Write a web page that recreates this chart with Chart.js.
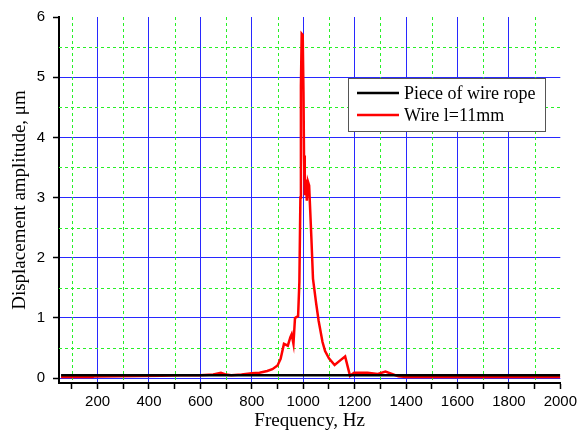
<!DOCTYPE html>
<html>
<head>
<meta charset="utf-8">
<script src="https://cdn.jsdelivr.net/npm/chart.js@4.4.1/dist/chart.umd.min.js"></script>
<style>
  html, body { margin: 0; padding: 0; background: #fff; }
  canvas { display: block; }
</style>
</head>
<body>
<canvas id="chart" width="581" height="433"></canvas>
<script>
// series names
const seriesNames = ['Piece of wire rope', 'Wire l=11mm'];

// piece of wire rope (flat)
const ropeFreq = [58, 400, 800, 1200, 1600, 2000];
const ropeAmp = [0.05, 0.05, 0.05, 0.05, 0.05, 0.05];

// wire l=11mm
const wireFreq = [58, 180, 190, 450, 520, 600, 650, 680, 700, 720, 760, 800, 830, 860, 880, 900,
  912, 925, 940, 950, 955, 962, 968, 980, 985, 989, 991, 994, 998, 1001, 1003, 1006,
  1010, 1014, 1018, 1023, 1027, 1032, 1038, 1050, 1060, 1075, 1085, 1100, 1122, 1145,
  1163, 1182, 1198, 1250, 1290, 1320, 1345, 1370, 1400, 2000];
const wireAmp = [0.02, 0.02, 0.03, 0.04, 0.05, 0.05, 0.06, 0.09, 0.06, 0.05, 0.06, 0.08, 0.09, 0.12, 0.15, 0.21,
  0.32, 0.57, 0.54, 0.68, 0.73, 0.57, 1.0, 1.03, 1.6, 3.0, 4.85, 5.72, 5.7, 4.75, 3.7, 3.04,
  3.3, 2.95, 3.27, 3.2, 2.8, 2.3, 1.65, 1.25, 0.95, 0.6, 0.45, 0.33, 0.22, 0.3,
  0.36, 0.04, 0.09, 0.09, 0.07, 0.11, 0.07, 0.03, 0.02, 0.02];

// tick labels
const xTicks = [200, 400, 600, 800, 1000, 1200, 1400, 1600, 1800, 2000];
const xMinor = [100, 300, 500, 700, 900, 1100, 1300, 1500, 1700, 1900];
const yTicks = [0, 1, 2, 3, 4, 5, 6];
const yMinor = [0.5, 1.5, 2.5, 3.5, 4.5, 5.5];

const BLUE = 'rgb(40,40,255)';
const GREEN = 'rgb(40,240,40)';
const NONE = 'rgba(0,0,0,0)';

const toPoints = (xs, ys) => xs.map((v, i) => ({ x: v, y: ys[i] }));

// dotted green minor grid
const minorGrid = {
  id: 'minorGrid',
  beforeDatasetsDraw(chart) {
    const { ctx, chartArea: a, scales: { x, y } } = chart;
    ctx.save();
    ctx.strokeStyle = GREEN;
    ctx.lineWidth = 1;
    ctx.setLineDash([3, 3]);
    ctx.beginPath();
    xMinor.forEach(v => {
      const px = Math.round(x.getPixelForValue(v)) + 0.5;
      ctx.moveTo(px, a.top);
      ctx.lineTo(px, a.bottom);
    });
    yMinor.forEach(v => {
      const py = Math.round(y.getPixelForValue(v)) + 0.5;
      ctx.moveTo(a.left, py);
      ctx.lineTo(a.right, py);
    });
    ctx.stroke();
    ctx.restore();
  }
};

// boxed legend inside the plot
const boxLegend = {
  id: 'boxLegend',
  afterDraw(chart) {
    const { ctx } = chart;
    const bx = 348.5, by = 78.5, bw = 197, bh = 53;
    ctx.save();
    ctx.fillStyle = '#fff';
    ctx.fillRect(bx, by, bw, bh);
    ctx.strokeStyle = '#555';
    ctx.lineWidth = 1;
    ctx.strokeRect(bx, by, bw, bh);
    ctx.font = '18px "Liberation Serif", serif';
    ctx.textBaseline = 'middle';
    chart.data.datasets.forEach((ds, i) => {
      const ly = 93 + i * 22;
      ctx.strokeStyle = ds.borderColor;
      ctx.lineWidth = 2.5;
      ctx.beginPath();
      ctx.moveTo(357, ly);
      ctx.lineTo(399, ly);
      ctx.stroke();
      ctx.fillStyle = '#000';
      ctx.fillText(ds.label, 404, ly + 1);
    });
    ctx.restore();
  }
};

new Chart(document.getElementById('chart'), {
  type: 'line',
  data: {
    datasets: [
      {
        label: seriesNames[0],
        data: toPoints(ropeFreq, ropeAmp),
        borderColor: '#000',
        borderWidth: 2.5,
        pointRadius: 0,
        tension: 0
      },
      {
        label: seriesNames[1],
        data: toPoints(wireFreq, wireAmp),
        borderColor: '#ff0000',
        borderWidth: 2.5,
        pointRadius: 0,
        tension: 0
      }
    ]
  },
  options: {
    responsive: false,
    animation: false,
    layout: { padding: { top: 13, right: 17, left: 0, bottom: 0 } },
    plugins: {
      legend: { display: false },
      tooltip: { enabled: false }
    },
    scales: {
      x: {
        type: 'linear',
        min: 50,
        max: 2000,
        afterBuildTicks: scale => {
          scale.ticks = xTicks.concat(xMinor).sort((a, b) => a - b).map(v => ({ value: v }));
        },
        afterFit: scale => { scale.height = 50; },
        ticks: {
          autoSkip: false,
          maxRotation: 0,
          padding: 4,
          color: '#000',
          font: { family: '"Liberation Sans", Arial, sans-serif', size: 15 },
          callback: v => xTicks.includes(v) ? String(v) : ''
        },
        grid: {
          color: ctx => (ctx.tick && xTicks.includes(ctx.tick.value) && ctx.tick.value !== 2000) ? BLUE : NONE,
          tickColor: '#000',
          tickLength: 6,
          tickWidth: 1.5,
          lineWidth: 1
        },
        border: { color: '#000', width: 2 },
        title: {
          display: true,
          text: 'Frequency, Hz',
          color: '#000',
          font: { family: '"Liberation Serif", "Times New Roman", serif', size: 19, lineHeight: 1.2 },
          padding: { top: 0, bottom: 1 }
        }
      },
      y: {
        type: 'linear',
        min: -0.08,
        max: 6,
        afterBuildTicks: scale => {
          scale.ticks = yTicks.map(v => ({ value: v }));
        },
        afterFit: scale => { scale.width = 59; },
        ticks: {
          padding: 8,
          color: '#000',
          font: { family: '"Liberation Sans", Arial, sans-serif', size: 15 }
        },
        grid: {
          color: ctx => (ctx.tick && ctx.tick.value !== 6) ? BLUE : NONE,
          tickColor: '#000',
          tickLength: 6,
          tickWidth: 1.5,
          lineWidth: 1
        },
        border: { color: '#000', width: 2 },
        title: {
          display: true,
          text: 'Displacement amplitude, μm',
          color: '#000',
          font: { family: '"Liberation Serif", "Times New Roman", serif', size: 19, lineHeight: 1.2 },
          padding: { top: 9, bottom: 0 }
        }
      }
    }
  },
  plugins: [minorGrid, boxLegend]
});
</script>
</body>
</html>
